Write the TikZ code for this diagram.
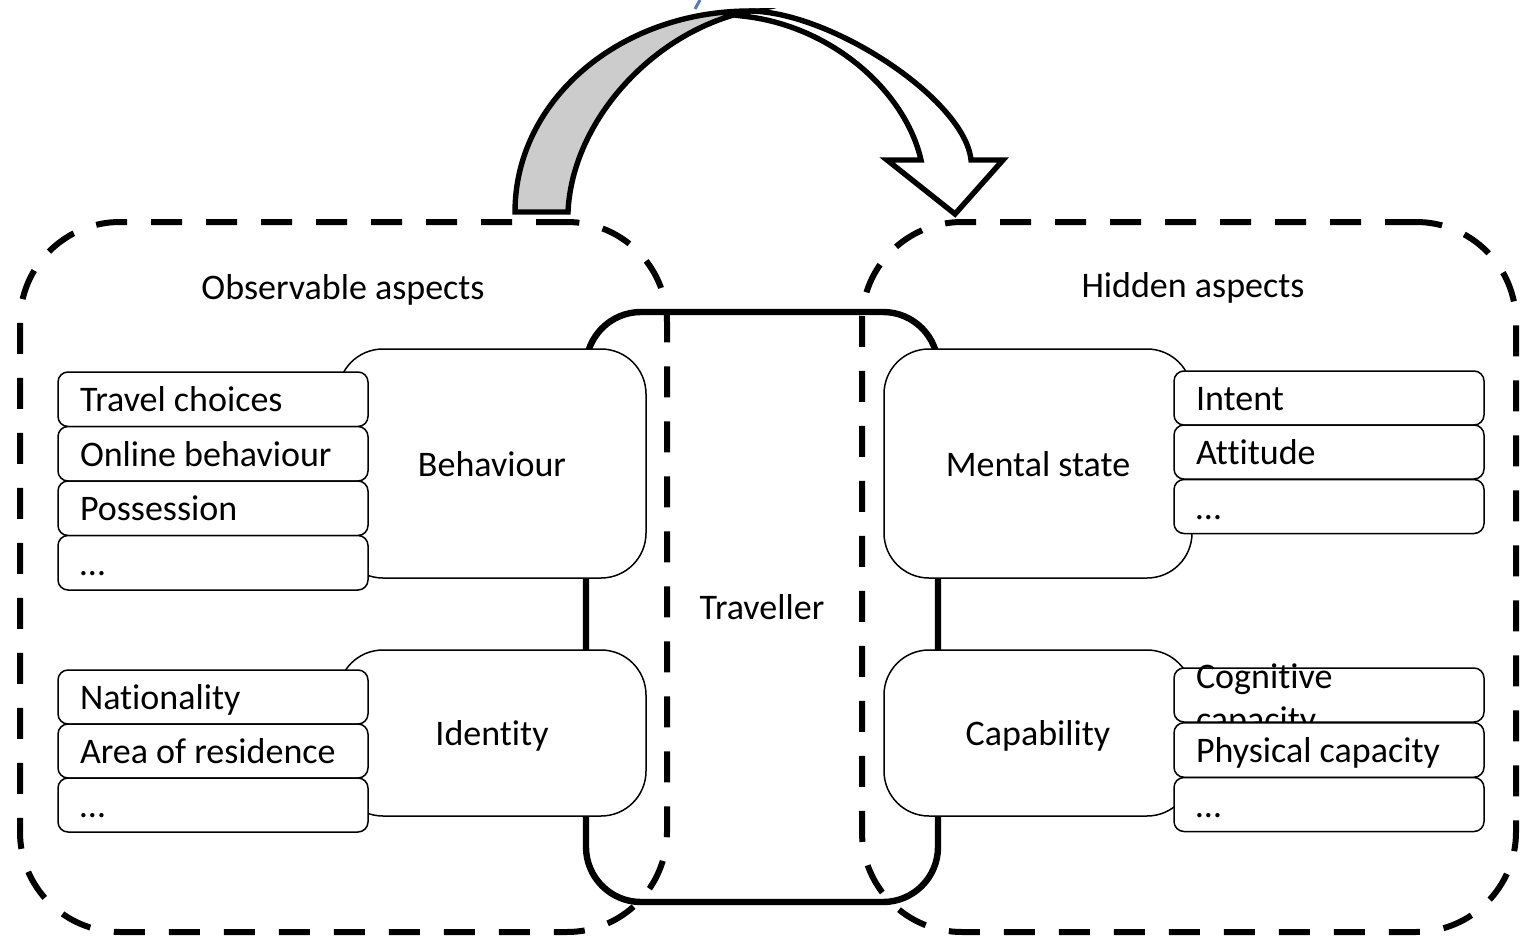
\documentclass[tikz,border=0pt]{standalone}
\usepackage{fontspec}
\setmainfont{Carlito}[Ligatures=NoCommon]
\definecolor{arrowgray}{HTML}{CCCCCC}
\definecolor{markblue}{RGB}{90,125,165}
\newcommand\mystrut{\rule[-3pt]{0pt}{18.5pt}}
\newcommand\itm[1]{\makebox[133pt][l]{\mystrut #1}}
\begin{document}
\begin{tikzpicture}[x=0.5pt,y=-0.5pt,
  every node/.style={font=\fontsize{18}{21.6}\selectfont},
  aspect/.style={draw, line width=3pt, dash pattern=on 15.5pt off 12pt, rounded corners=50pt, rectangle, inner sep=0pt},
  trav/.style={draw, line width=3.2pt, rounded corners=27.5pt, minimum width=176pt, minimum height=295pt, inner sep=0pt},
  bigbox/.style={draw, fill=white, line width=0.75pt, rounded corners=22.5pt, minimum width=154pt, inner sep=0pt},
  itembox/.style={draw, fill=white, line width=0.75pt, rounded corners=5pt, minimum width=155pt, minimum height=27pt, inner xsep=11pt, inner ysep=0pt},
  heading/.style={anchor=base, inner sep=0pt},
  blockarrow/.style={draw, line width=2.7pt, line join=miter, miter limit=10}
]
\useasboundingbox (0,0) rectangle (1521,937);

% traveller
\node[trav] (trav) at (762,607) {\mystrut Traveller};

% aspect groups
\node[aspect, minimum width=323.5pt, minimum height=355pt] (obs) at (343.5,577) {};
\node[aspect, minimum width=327pt, minimum height=355pt] (hid) at (1189,577) {};
\node[heading] (obsT) at (343,299) {Observable aspects};
\node[heading] (hidT) at (1193,297) {Hidden aspects};

% big boxes
\node[bigbox, minimum height=114.5pt] (beh) at (492,463.5) {\mystrut Behaviour};
\node[bigbox, minimum height=83pt] (ide) at (492,733) {\mystrut Identity};
\node[bigbox, minimum height=114.5pt] (men) at (1038,463.5) {\mystrut Mental state};
\node[bigbox, minimum height=83pt] (cap) at (1038,733) {\mystrut Capability};

% left lists
\node[itembox, minimum height=27.25pt] (l1) at (213,399.25) {\itm{Travel choices}};
\node[itembox, minimum height=27.25pt] (l2) at (213,453.75) {\itm{Online behaviour}};
\node[itembox, minimum height=27.25pt] (l3) at (213,508.25) {\itm{Possession}};
\node[itembox, minimum height=27.25pt] (l4) at (213,562.75) {\itm{…}};
\node[itembox] (l5) at (213,697) {\itm{Nationality}};
\node[itembox] (l6) at (213,751) {\itm{Area of residence}};
\node[itembox] (l7) at (213,805) {\itm{…}};

% right lists
\node[itembox] (r1) at (1329,398) {\itm{Intent}};
\node[itembox] (r2) at (1329,452) {\itm{Attitude}};
\node[itembox] (r3) at (1329,506.5) {\itm{…}};
\node[itembox] (r4) at (1329,695) {\itm{\smash{\raisebox{9.5pt}{\parbox[t]{133pt}{Cognitive\\capacity}}}}};
\node[itembox, minimum height=27.25pt] (r5) at (1329,750) {\itm{Physical capacity}};
\node[itembox] (r6) at (1329,804.5) {\itm{…}};

% curved block arrow
\filldraw[blockarrow, fill=arrowgray] (515,212) .. controls (515,100) and (620,11) .. (750,11)
  .. controls (655,30) and (572,120) .. (568,212) -- cycle;
\filldraw[blockarrow, fill=white] (750,11) .. controls (832,12) and (965,100) .. (971,160)
  -- (1003,160) -- (955,214) -- (887,160) -- (921,160)
  .. controls (905,90) and (830,25) .. (742,16) -- cycle;

% small cut-off mark at the top
\draw[markblue, line width=1.5pt] (700,0) -- (695,9);
\end{tikzpicture}
\end{document}
